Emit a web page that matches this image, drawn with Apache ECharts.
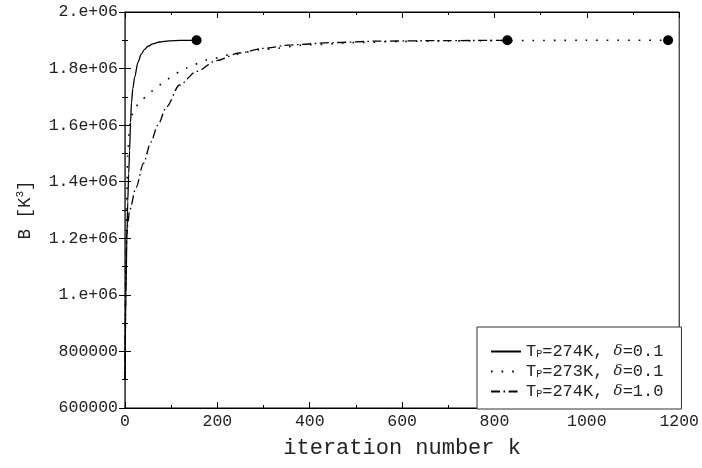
<!DOCTYPE html>
<html>
<head>
<meta charset="utf-8">
<script src="https://cdn.jsdelivr.net/npm/echarts@6/dist/echarts.min.js"></script>
<style>
  html, body { margin: 0; padding: 0; background: #fff; }
  #chart { width: 702px; height: 468px; }
</style>
</head>
<body>
<div id="chart"></div>
<script>
var chart = echarts.init(document.getElementById('chart'));

// T_P=274K, delta=0.1 (solid)
var kSolid = [0, 2, 4, 6, 8, 10, 12, 14, 17, 21, 28, 35, 42, 50, 60, 75, 95, 120, 155];
var bSolid = [700000, 1000000, 1200000, 1330000, 1430000, 1510000, 1610000, 1680000, 1730000, 1770000,
              1822000, 1850000, 1867000, 1879000, 1887000, 1894000, 1898000, 1900000, 1900000];

// T_P=273K, delta=0.1 (dotted)
var kDot = [0, 2, 4, 6, 9, 12, 19, 34, 53, 71, 90, 133, 176, 226, 300, 400, 500, 600, 700, 828, 1000, 1176];
var bDot = [700000, 1100000, 1350000, 1500000, 1580000, 1618000, 1657000, 1685000, 1715000, 1738000,
            1763000, 1802000, 1830000, 1848000, 1868000, 1884000, 1892000, 1896000, 1898000, 1899000,
            1900000, 1900000];

// T_P=274K, delta=1.0 (dash-dot)
var kDash = [0, 1, 2, 4, 6, 10, 24, 40, 56, 71, 90, 118, 155, 198, 247, 297, 361, 450, 550, 700, 828];
var bDash = [700000, 950000, 1100000, 1210000, 1250000, 1300000, 1380000, 1465000, 1540000, 1600000,
             1665000, 1742000, 1790000, 1828000, 1855000, 1871000, 1884000, 1892000, 1897000, 1899000,
             1900000];

// end points of each run
var endK = [155, 828, 1176];
var endB = [1900000, 1900000, 1900000];

var names = ['T_P=274K, δ=0.1', 'T_P=273K, δ=0.1', 'T_P=274K, δ=1.0'];

var yTickLabels = {
    600000: '600000', 800000: '800000', 1000000: '1.e+06', 1200000: '1.2e+06',
    1400000: '1.4e+06', 1600000: '1.6e+06', 1800000: '1.8e+06', 2000000: '2.e+06'
};

function pairs(xs, ys) {
    return xs.map(function (x, i) { return [x, ys[i]]; });
}

var font = 'Liberation Mono, DejaVu Sans Mono, monospace';
var txt = '#222';

function xAx(pos) {
    return {
        type: 'value', position: pos, min: 0, max: 1200, interval: 200,
        axisLine: { show: true, lineStyle: { color: '#000', width: 1 } },
        axisTick: { show: true, inside: true, length: 6, lineStyle: { color: '#000' } },
        minorTick: { show: true, splitNumber: 2, length: 3, lineStyle: { color: '#000' } },
        splitLine: { show: false },
        axisLabel: {
            show: pos === 'bottom', fontFamily: font, fontSize: 16.5, color: txt, margin: 5,
            formatter: function (v) { return String(v); }
        }
    };
}
function yAx(pos) {
    return {
        type: 'value', position: pos, min: 600000, max: 2000000, interval: 200000,
        axisLine: { show: true, lineStyle: { color: pos === 'right' ? '#666' : '#000', width: pos === 'right' ? 1.5 : 1 } },
        axisTick: { show: true, inside: true, length: 6, lineStyle: { color: '#000' } },
        minorTick: { show: true, splitNumber: 2, length: 3, lineStyle: { color: '#000' } },
        splitLine: { show: false },
        axisLabel: {
            show: pos === 'left', fontFamily: font, fontSize: 16.5, color: txt, margin: 7,
            formatter: function (v) { return yTickLabels[v] || ''; }
        }
    };
}

var xBottom = xAx('bottom');
xBottom.name = 'iteration number k';
xBottom.nameLocation = 'middle';
xBottom.nameGap = 29;
xBottom.nameTextStyle = { fontFamily: font, fontSize: 22, color: txt };

var yLeft = yAx('left');
yLeft.name = 'B [K{sup|3}]';
yLeft.nameLocation = 'middle';
yLeft.nameGap = 90;
yLeft.nameTextStyle = {
    fontFamily: font, fontSize: 17.5, color: txt,
    rich: { sup: { fontFamily: font, fontSize: 11, color: txt, padding: [0, 0, 9, 0] } }
};

var option = {
    animation: false,
    backgroundColor: '#fff',
    grid: { left: 125, right: 19, top: 12, bottom: 60, show: true, borderColor: '#000', borderWidth: 1 },
    legend: {
        data: names,
        orient: 'vertical',
        left: 477, top: 327,
        padding: [16, 18, 9, 13],
        itemWidth: 30, itemHeight: 14, itemGap: 3,
        borderColor: '#333', borderWidth: 1,
        backgroundColor: '#fff',
        itemStyle: { opacity: 0 },
        formatter: function (n) {
            return n.replace('T_P', 'T{s|P}').replace('δ', '{d|δ}');
        },
        textStyle: {
            fontFamily: font, fontSize: 17, color: txt, lineHeight: 16,
            rich: {
                s: { fontFamily: font, fontSize: 10, color: txt, padding: [5, 0, 0, 0] },
                d: { fontFamily: 'DejaVu Serif, serif', fontStyle: 'italic', fontSize: 15, color: txt }
            }
        }
    },
    xAxis: [xBottom, xAx('top')],
    yAxis: [yLeft, yAx('right')],
    series: [
        {
            name: names[0], type: 'line', data: pairs(kSolid, bSolid),
            symbol: 'none', smooth: 0.3, smoothMonotone: 'x',
            itemStyle: { color: '#000' },
            lineStyle: { color: '#000', width: 1.3, type: 'solid' }
        },
        {
            name: names[1], type: 'line', data: pairs(kDot, bDot),
            symbol: 'none', smooth: 0.3, smoothMonotone: 'x',
            itemStyle: { color: '#000' },
            lineStyle: { color: '#000', width: 1.6, type: [1.6, 9] }
        },
        {
            name: names[2], type: 'line', data: pairs(kDash, bDash),
            symbol: 'none', smooth: 0.3, smoothMonotone: 'x',
            itemStyle: { color: '#000' },
            lineStyle: { color: '#000', width: 1.3, type: [9, 3.5, 1.6, 3.5] }
        },
        {
            name: 'end', type: 'scatter', data: pairs(endK, endB),
            symbol: 'circle', symbolSize: 10, z: 5,
            itemStyle: { color: '#000', opacity: 1 }
        }
    ]
};

chart.setOption(option);
</script>
</body>
</html>
